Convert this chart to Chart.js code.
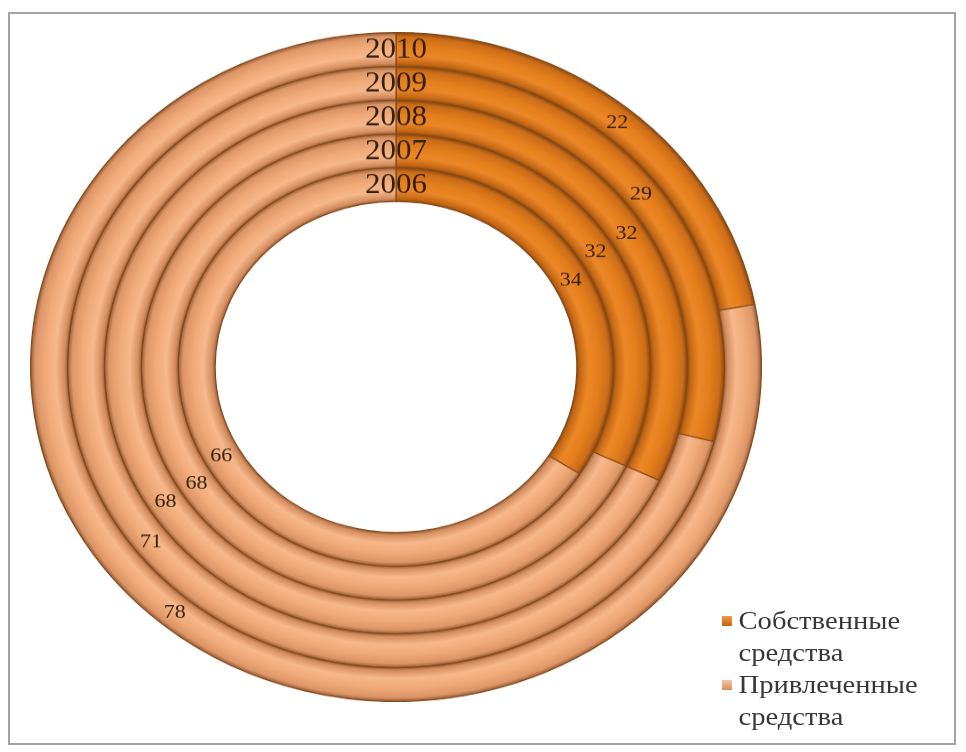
<!DOCTYPE html>
<html>
<head>
<meta charset="utf-8">
<script src="https://cdn.jsdelivr.net/npm/chart.js@4/dist/chart.umd.min.js"></script>
<style>
  html, body { margin: 0; padding: 0; background: #ffffff; width: 966px; height: 752px; overflow: hidden; }
  #frame { position: absolute; left: 8px; top: 12px; width: 948px; height: 733px; border: 2px solid #a3a3a3; box-sizing: border-box; }
  #wrap { position: absolute; left: 30px; top: 32px; width: 732px; height: 732px; transform: scaleY(0.9153); transform-origin: 0 0; }
  #legend { position: absolute; left: 722px; top: 605px; font-family: 'Liberation Serif', 'Times New Roman', serif; font-size: 26px; line-height: 32px; color: #383838; transform: scaleX(1.1); transform-origin: 0 0; }
  .item { position: relative; padding-left: 15px; width: 200px; }
  .sw { position: absolute; left: 0; top: 11px; width: 9px; height: 10px; }
</style>
</head>
<body>
<div id="frame"></div>
<div id="wrap"><canvas id="c"></canvas></div>
<div id="legend"></div>
<script>
// ---- data ----
const years = ['2006', '2007', '2008', '2009', '2010'];
const categories = ['Собственные средства', 'Привлеченные средства'];
const ownFunds = [34, 32, 32, 29, 22];
const borrowedFunds = [66, 68, 68, 71, 78];

// ---- styles ----
const baseColors = ['#e57e1d', '#f2ab7b'];
const gradStops = [
  [[0, '#924e0e'], [0.09, '#c46714'], [0.32, '#ec8728'], [0.6, '#e57f1d'], [0.88, '#cb6c18'], [1, '#884810']],
  [[0, '#9e6038'], [0.09, '#d48e60'], [0.32, '#f7b88b'], [0.6, '#f1aa7a'], [0.88, '#dc9566'], [1, '#975c34']]
];

function ringFill(ctx) {
  const chart = ctx.chart;
  const idx = ctx.dataIndex;
  const meta = chart.getDatasetMeta(ctx.datasetIndex);
  const c = meta.controller;
  const area = chart.chartArea;
  if (!area || !c || !(c.outerRadius > 0) || idx === undefined) return baseColors[idx || 0];
  const cx = (area.left + area.right) / 2;
  const cy = (area.top + area.bottom) / 2;
  const g = chart.ctx.createRadialGradient(cx, cy, c.innerRadius, cx, cy, c.outerRadius);
  gradStops[idx].forEach(s => g.addColorStop(s[0], s[1]));
  return g;
}

// outermost ring first in Chart.js
const order = [4, 3, 2, 1, 0];
const datasets = order.map(i => ({
  label: years[i],
  data: [ownFunds[i], borrowedFunds[i]],
  backgroundColor: ringFill,
  borderColor: '#84491a',
  borderWidth: 1.2
}));

const labelPlugin = {
  id: 'ringLabels',
  afterDatasetsDraw(chart) {
    const ctx = chart.ctx;
    const area = chart.chartArea;
    const cx = (area.left + area.right) / 2;
    const cy = (area.top + area.bottom) / 2;
    ctx.save();
    ctx.fillStyle = '#34200f';
    ctx.textAlign = 'center';
    ctx.textBaseline = 'middle';
    chart.data.datasets.forEach((ds, di) => {
      const meta = chart.getDatasetMeta(di);
      ctx.font = '22px "Liberation Serif", serif';
      meta.data.forEach((arc, j) => {
        const p = arc.tooltipPosition();
        ctx.fillText(String(ds.data[j]), p.x, p.y + 1);
      });
      const c = meta.controller;
      const midR = (c.innerRadius + c.outerRadius) / 2;
      ctx.font = '31px "Liberation Serif", serif';
      ctx.fillText(ds.label, cx, cy - midR + 1);
    });
    ctx.restore();
  }
};

new Chart(document.getElementById('c'), {
  type: 'doughnut',
  data: { labels: categories, datasets: datasets },
  options: {
    responsive: true,
    maintainAspectRatio: false,
    animation: false,
    cutout: '49.5%',
    layout: { padding: 0 },
    plugins: { legend: { display: false }, tooltip: { enabled: false } }
  },
  plugins: [labelPlugin]
});

// HTML legend
const legend = document.getElementById('legend');
const swatchGrad = ['linear-gradient(#f39a40, #c0620f)', 'linear-gradient(#f8c3a0, #d98c5c)'];
categories.forEach((name, i) => {
  const d = document.createElement('div');
  d.className = 'item';
  const s = document.createElement('span');
  s.className = 'sw';
  s.style.background = swatchGrad[i];
  d.appendChild(s);
  d.appendChild(document.createTextNode(name));
  legend.appendChild(d);
});
</script>
</body>
</html>
